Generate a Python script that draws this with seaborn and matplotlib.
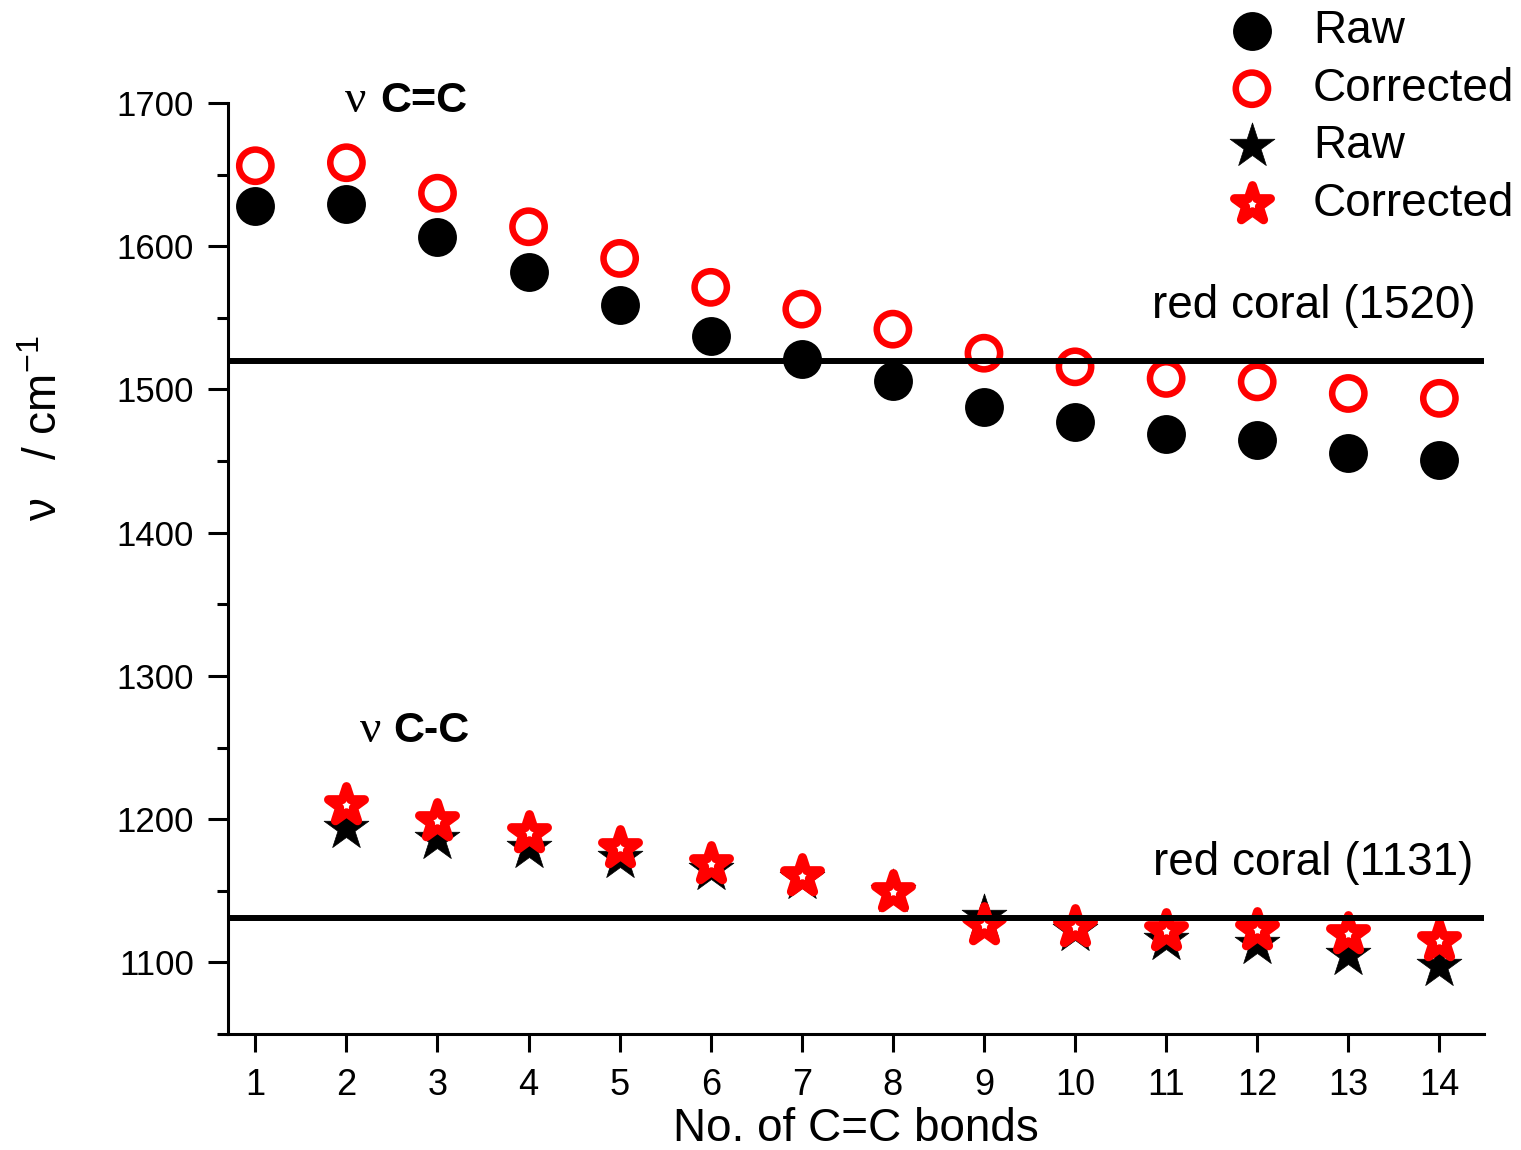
import matplotlib
matplotlib.use("Agg")
import matplotlib.pyplot as plt
import seaborn as sns
import numpy as np
import pandas as pd

# ---- data ----
n_bonds = [1, 2, 3, 4, 5, 6, 7, 8, 9, 10, 11, 12, 13, 14]
cc_raw = [1628, 1629.5, 1606.6, 1581.7, 1559, 1537.3, 1521.2, 1506, 1488,
          1477.4, 1468.6, 1464.8, 1455.3, 1451]
cc_corr = [1656.2, 1658.3, 1637, 1613.6, 1591.5, 1571.3, 1556.1, 1542.1, 1525.3,
           1515.8, 1507.7, 1505.3, 1497.2, 1493.8]
n_bonds_single = [2, 3, 4, 5, 6, 7, 8, 9, 10, 11, 12, 13, 14]
c_c_raw = [1194, 1186, 1180, 1172.6, 1164.6, 1158.5, 1149, 1131.5, 1122.2,
           1115.9, 1113.1, 1105.5, 1097.2]
c_c_corr = [1209.7, 1198.8, 1190, 1180, 1169, 1160, 1149.2, 1126, 1124.7,
            1121.9, 1122.9, 1119.6, 1114.9]
ref_lines = [1520, 1131]
ref_labels = ["red coral (1520)", "red coral (1131)"]
legend_labels = ["Raw", "Corrected", "Raw", "Corrected"]
x_ticks = list(range(1, 15))
y_ticks = [1100, 1200, 1300, 1400, 1500, 1600, 1700]

sns.set_style("ticks")
plt.rcParams["font.family"] = ["Liberation Sans", "DejaVu Sans"]
plt.rcParams["mathtext.fontset"] = "custom"
plt.rcParams["mathtext.rm"] = "Liberation Sans"
plt.rcParams["mathtext.it"] = "Liberation Sans:italic"
plt.rcParams["mathtext.bf"] = "Liberation Sans:bold"
for k in ["text.color", "axes.labelcolor", "xtick.color", "ytick.color", "axes.edgecolor"]:
    plt.rcParams[k] = "black"

fig = plt.figure(figsize=(15.21, 11.5), dpi=100)
ax = fig.add_axes([228 / 1521, 116 / 1150, (1484 - 228) / 1521, (1034 - 103) / 1150])

df_cc = pd.DataFrame({"n": n_bonds, "raw": cc_raw, "corr": cc_corr})
df_c = pd.DataFrame({"n": n_bonds_single, "raw": c_c_raw, "corr": c_c_corr})

sns.scatterplot(data=df_cc, x="n", y="raw", ax=ax, marker="o", s=784,
                color="black", edgecolor="black", linewidth=0, label=legend_labels[0])
sns.scatterplot(data=df_cc, x="n", y="corr", ax=ax, marker="o", s=540,
                color="red", facecolor="none", edgecolor="red", linewidth=4.7,
                label=legend_labels[1])
sns.scatterplot(data=df_c, x="n", y="raw", ax=ax, marker="*", s=1150,
                color="black", edgecolor="black", linewidth=0.5, label=legend_labels[2])
sns.scatterplot(data=df_c, x="n", y="corr", ax=ax, marker="*", s=740,
                color="red", facecolor="white", edgecolor="red", linewidth=6.5,
                label=legend_labels[3])

for yv in ref_lines:
    ax.axhline(yv, color="black", lw=4.3, zorder=5)

ax.set_xlim(0.7, 14.49)
ax.set_ylim(1050, 1700)
ax.set_xticks(x_ticks)
ax.set_yticks(y_ticks)
ax.set_yticks(np.arange(1050, 1700, 100), minor=True)

sns.despine(ax=ax)
for s in ["left", "bottom"]:
    ax.spines[s].set_linewidth(2.2)
ax.tick_params(axis="y", which="major", direction="out", length=14.4, width=2.2,
               labelsize=25, pad=10)
ax.tick_params(axis="y", which="minor", direction="out", length=8, width=2.2)
ax.tick_params(axis="x", which="major", direction="out", length=13, width=2.2,
               labelsize=26, pad=11.5)

ax.set_xlabel("No. of C=C bonds", fontsize=33, labelpad=3)
ax.set_ylabel(r"ν   / cm$^{-1}$", fontsize=33)
ax.yaxis.set_label_coords(-0.128, 0.651)

ax.text(14.395, 1550, ref_labels[0], fontsize=33, ha="right", va="baseline")
ax.text(14.37, 1161, ref_labels[1], fontsize=33, ha="right", va="baseline")

ax.text(2.22, 1694, "ν", fontsize=34, family="Liberation Serif", ha="right", va="baseline")
ax.text(2.372, 1694, "C=C", fontsize=31, fontweight="bold", ha="left", va="baseline")
ax.text(2.383, 1254, "ν", fontsize=34, family="Liberation Serif", ha="right", va="baseline")
ax.text(2.515, 1254, "C-C", fontsize=31, fontweight="bold", ha="left", va="baseline")

ax.get_legend().remove()
handles, labels = ax.get_legend_handles_labels()
fig.legend(handles, labels, loc="upper left", bbox_to_anchor=(1229 / 1521, 1 - 9 / 1150),
           frameon=False, borderpad=0, borderaxespad=0, handlelength=1.0,
           handletextpad=0.83, labelspacing=0.30, fontsize=33, scatterpoints=1)

fig.savefig("out.png", dpi=100)
